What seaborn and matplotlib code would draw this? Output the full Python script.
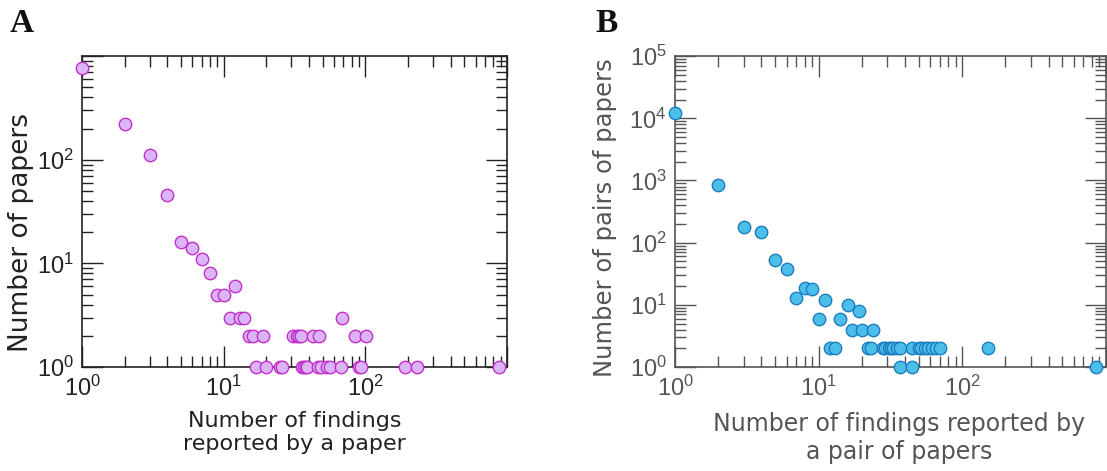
import pandas as pd
import matplotlib
matplotlib.use("Agg")
import matplotlib.pyplot as plt
import matplotlib.ticker as mticker
import seaborn as sns

sns.set_theme(style="ticks")
plt.rcParams["font.family"] = ["Liberation Sans", "DejaVu Sans"]
plt.rcParams["mathtext.fontset"] = "custom"
plt.rcParams["mathtext.rm"] = "Liberation Sans"
plt.rcParams["mathtext.it"] = "Liberation Sans:italic"

# panel A: findings per paper
a_findings = [1, 2, 3, 4, 5, 6, 7, 8, 9, 10, 12, 11, 13, 14,
              15, 16, 19, 31, 33, 34, 35, 43, 47, 84, 101, 68,
              17, 20, 25, 26, 36, 37, 38, 39, 46, 49, 54, 56, 67, 90, 93, 191, 233, 879]
a_papers = [770, 220, 110, 46, 16, 14, 11, 8, 5, 5, 6, 3, 3, 3,
            2, 2, 2, 2, 2, 2, 2, 2, 2, 2, 2, 3,
            1, 1, 1, 1, 1, 1, 1, 1, 1, 1, 1, 1, 1, 1, 1, 1, 1, 1]

# panel B: findings per pair of papers
b_findings = [1, 2, 3, 4, 5, 6, 7, 8, 9, 10, 11, 12, 13, 14, 16, 19, 17, 20, 24,
              22, 23, 28, 29, 31, 32, 33, 35, 37, 45, 50, 52, 55, 58, 62, 66, 70, 152,
              37, 45, 860]
b_pairs = [12000, 840, 181, 149, 52, 38, 13, 19, 18, 6, 12, 2, 2, 6, 10, 8, 4, 4, 4,
           2, 2, 2, 2, 2, 2, 2, 2, 2, 2, 2, 2, 2, 2, 2, 2, 2, 2,
           1, 1, 1]

df_a = pd.DataFrame({"findings": a_findings, "papers": a_papers})
df_b = pd.DataFrame({"findings": b_findings, "pairs": b_pairs})

fig = plt.figure(figsize=(11.07, 4.71), dpi=100)
ax_a = fig.add_axes([0.0741, 0.2208, 0.3839, 0.660])
ax_b = fig.add_axes([0.6098, 0.2208, 0.3890, 0.660])


def style_axis(ax, ymax, ylabels, color):
    ax.set_xscale("log")
    ax.set_yscale("log")
    ax.set_xlim(1, 1000)
    ax.set_ylim(1, ymax)
    ax.set_xticks([1, 10, 100, 1000], labels=["$10^0$", "$10^1$", "$10^2$", ""])
    yt = [10 ** i for i in range(len(ylabels))]
    ax.set_yticks(yt, labels=ylabels)
    ax.xaxis.set_minor_locator(mticker.LogLocator(base=10, subs=range(2, 10), numticks=20))
    ax.yaxis.set_minor_locator(mticker.LogLocator(base=10, subs=range(2, 10), numticks=20))
    ax.xaxis.set_minor_formatter(mticker.NullFormatter())
    ax.yaxis.set_minor_formatter(mticker.NullFormatter())
    ax.tick_params(which="both", direction="in", top=True, right=True,
                   color=color, labelcolor=color, labelsize=17, width=1)
    ax.tick_params(which="major", length=15, pad=6)
    ax.tick_params(which="minor", length=8)
    ax.tick_params(axis="y", which="major", pad=6)
    for s in ax.spines.values():
        s.set_color(color)
        s.set_linewidth(1.2)


sns.scatterplot(data=df_a, x="findings", y="papers", ax=ax_a, s=80,
                color="#dab4f6", edgecolor="#c22fc9", linewidth=1, clip_on=False, zorder=3)
style_axis(ax_a, 1000, ["$10^0$", "$10^1$", "$10^2$", ""], "#222222")
ax_a.set_xlabel("Number of findings\nreported by a paper", fontsize=16,
                family="DejaVu Sans", color="#222222")
ax_a.set_ylabel("Number of papers", fontsize=19, family="DejaVu Sans", color="#222222")
ax_a.xaxis.set_label_coords(0.5, -0.14)
ax_a.yaxis.set_label_coords(-0.113, 0.434)

sns.scatterplot(data=df_b, x="findings", y="pairs", ax=ax_b, s=80,
                color="#4bbfea", edgecolor="#1b7cc0", linewidth=1, clip_on=False, zorder=3)
style_axis(ax_b, 1e5, ["$10^0$", "$10^1$", "$10^2$", "$10^3$", "$10^4$", "$10^5$"], "#555555")
ax_b.set_xlabel("Number of findings reported by\na pair of papers", fontsize=17,
                family="DejaVu Sans", color="#555555")
ax_b.set_ylabel("Number of pairs of papers", fontsize=17.5, family="DejaVu Sans", color="#555555")
ax_b.xaxis.set_label_coords(0.52, -0.145)
ax_b.yaxis.set_label_coords(-0.135, 0.482)

fig.text(10 / 1107, 1 - 32 / 471, "A", fontsize=24, fontweight="bold",
         family="Liberation Serif", color="#111111", va="baseline")
fig.text(595 / 1107, 1 - 32 / 471, "B", fontsize=24, fontweight="bold",
         family="Liberation Serif", color="#111111", va="baseline")

fig.savefig("out.png", dpi=100)
